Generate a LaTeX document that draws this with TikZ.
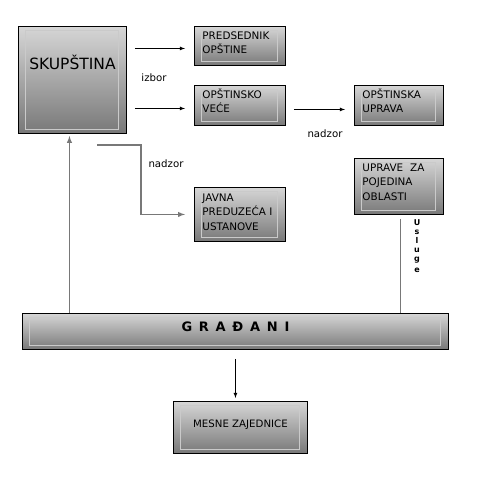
\documentclass[tikz,border=0pt]{standalone}
\usepackage{fontspec}
\setmainfont{DejaVu Sans}
\usepackage{xcolor}
\definecolor{boxTop}{RGB}{214, 214, 214}
\definecolor{boxBottom}{RGB}{120, 120, 120}
\definecolor{innerFrame}{RGB}{202, 202, 202}
\definecolor{lineGray}{RGB}{120, 120, 120}

\begin{document}
\begin{tikzpicture}[>=latex, x=1pt, y=-1pt]

  % Page frame (same size as the reference)
  \useasboundingbox (0,0) rectangle (483,485);

  % Box styles: grey gradient, black border, light inner frame
  \tikzset{
    blok/.style={
      draw=black, line width=0.9pt,
      top color=boxTop, bottom color=boxBottom,
      anchor=north west, inner ysep=0pt, inner xsep=8pt,
      path picture={
        \draw[innerFrame, line width=0.8pt]
          ([shift={(7pt,-4pt)}]path picture bounding box.north west)
          rectangle ([shift={(-8pt,4pt)}]path picture bounding box.south east);
      }
    },
    malablok/.style={
      blok, align=left, text width=#1, text height=13pt,
      font=\fontsize{10.4}{14.5}\selectfont
    },
    natpis/.style={font=\fontsize{10.2}{12}\selectfont},
    siva/.style={draw=lineGray, line width=1.4pt},
    crna/.style={draw=black, line width=0.8pt}
  }

  % --- Boxes ---
  \node[blok, align=center, text width=92pt, text height=43pt, text depth=64pt,
        font=\fontsize{15.5}{18}\selectfont] (skup) at (18,26) {SKUPŠTINA};

  \node[malablok=75pt, text depth=26pt] (pred)  at (194,26)  {PREDSEDNIK\\OPŠTINE};
  \node[malablok=75pt, text depth=27pt] (vece)  at (194,85)  {OPŠTINSKO\\VEĆE};
  \node[malablok=75pt, text height=14pt, text depth=40pt] (javna) at (194,187)
    {JAVNA\\PREDUZEĆA I\\USTANOVE};
  \node[malablok=73pt, text depth=27pt] (uprava) at (354,85)  {OPŠTINSKA\\UPRAVA};
  \node[malablok=73pt, text depth=43pt] (uprave) at (354,158)
    {UPRAVE\ \ ZA\\POJEDINA\\OBLASTI};

  \node[blok, minimum width=426pt, text height=18pt, text depth=18pt,
        font=\fontsize{13}{15}\bfseries\addfontfeature{LetterSpace=17}] (grad) at (22,313)
    {G R A Đ A N I};

  \node[blok, minimum width=134pt, text height=26pt, text depth=26pt,
        font=\fontsize{10.2}{12}\selectfont] (mesne) at (173,401) {MESNE ZAJEDNICE};

  % --- Labels ---
  \node[natpis] (izbor)   at (154,78)  {izbor};
  \node[natpis] (nadzorA) at (325,134) {nadzor};
  \node[natpis] (nadzorB) at (166,164) {nadzor};
  \node[anchor=north, inner sep=0pt, align=center,
        font=\fontsize{8}{9}\bfseries] (usluge) at (417,219)
    {U\\s\\l\\u\\g\\[2pt]e};

  % --- Connectors ---
  \draw[crna, ->, shorten <=8pt, shorten >=9pt]
    ([yshift=-2.5pt]skup.east |- pred.west) -- ([yshift=-2.5pt]pred.west);
  \draw[crna, ->, shorten <=8pt, shorten >=9pt]
    ([yshift=-3pt]skup.east |- vece.west) -- ([yshift=-3pt]vece.west);
  \draw[crna, ->, shorten <=8pt, shorten >=9pt]
    ([yshift=-4pt]vece.east) -- ([yshift=-4pt]uprava.west);

  \coordinate (nadzorPoc) at (97,145);
  \draw[siva, ->, shorten >=9pt] (nadzorPoc) -- ++(44,0) |- (javna.west);

  \draw[siva, ->, shorten >=2pt]
    ([xshift=-3pt]skup.south |- grad.north) -- ([xshift=-3pt]skup.south);
  \draw[siva, shorten <=4pt]
    ([xshift=1.5pt]uprave.south) -- ([xshift=1.5pt]uprave.south |- grad.north);

  \draw[crna, ->, shorten <=9pt, shorten >=3pt] (grad.south) -- (grad.south |- mesne.north);

\end{tikzpicture}
\end{document}
